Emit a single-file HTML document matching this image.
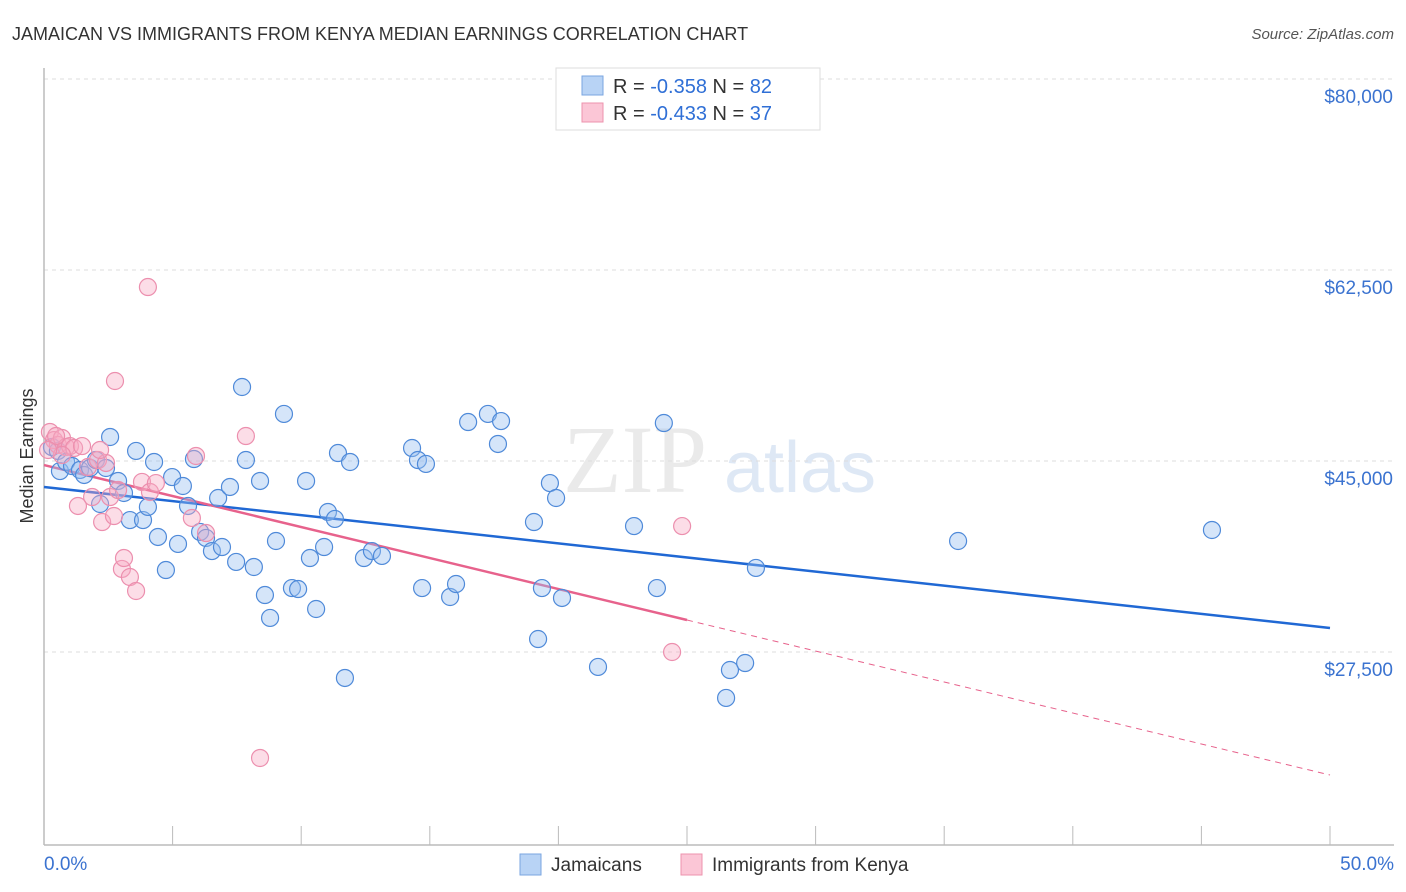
<!DOCTYPE html>
<html><head><meta charset="utf-8"><style>
body{margin:0;background:#fff;font-family:"Liberation Sans",sans-serif}
svg{display:block}
</style></head><body>
<svg id="chart" width="1406" height="892" xmlns="http://www.w3.org/2000/svg">
<text x="12" y="40" font-size="18" fill="#333">JAMAICAN VS IMMIGRANTS FROM KENYA MEDIAN EARNINGS CORRELATION CHART</text>
<text x="1394" y="39" font-size="15" fill="#555" font-style="italic" text-anchor="end">Source: ZipAtlas.com</text>
<text x="33" y="456" font-size="18" fill="#333" text-anchor="middle" transform="rotate(-90 33 456)">Median Earnings</text>
<g><text x="635" y="492" font-size="96" font-family="Liberation Serif,serif" fill="#ddd" text-anchor="middle" opacity="0.6">ZIP</text><text x="800" y="492" font-size="72" fill="#c9daf0" text-anchor="middle" opacity="0.6">atlas</text></g>
<g id="grid"></g><g id="axes"></g><g id="lines"></g><g id="pts"></g>
<g>
<rect x="556" y="68" width="264" height="62" fill="#fff" stroke="#ddd"/>
<rect x="582" y="76" width="21" height="19" fill="#b8d3f5" stroke="#7aa6e0"/>
<rect x="582" y="103" width="21" height="19" fill="#fbc6d6" stroke="#ec93ad"/>
<text x="613" y="93" font-size="20" fill="#333">R = <tspan fill="#2f6fd6">-0.358</tspan>   N = <tspan fill="#2f6fd6">82</tspan></text>
<text x="613" y="120" font-size="20" fill="#333">R = <tspan fill="#2f6fd6">-0.433</tspan>   N = <tspan fill="#2f6fd6">37</tspan></text>
</g>
<g>
<rect x="520" y="854" width="21" height="21" fill="#b8d3f5" stroke="#7aa6e0"/>
<text x="551" y="871" font-size="19" fill="#333">Jamaicans</text>
<rect x="681" y="854" width="21" height="21" fill="#fbc6d6" stroke="#ec93ad"/>
<text x="712" y="871" font-size="19" fill="#333">Immigrants from Kenya</text>
</g>
</svg>
<script>
const yTicks=[80000,62500,45000,27500];
const yTickLabels=["$80,000","$62,500","$45,000","$27,500"];
const xTickLabels=["0.0%","50.0%"];
const jamX=[0.31,0.54,0.62,0.86,1.09,1.40,1.56,1.79,2.02,2.18,2.41,2.57,2.88,3.11,3.34,3.58,3.85,4.04,4.28,4.43,4.74,4.98,5.21,5.40,5.60,5.83,6.07,6.30,6.53,6.77,6.92,7.23,7.47,7.70,7.85,8.16,8.40,8.59,8.79,9.02,9.64,9.33,9.88,10.19,10.34,10.58,10.89,11.04,11.31,11.43,11.70,11.90,12.44,12.75,13.14,14.31,14.54,14.85,14.70,15.79,16.02,16.49,17.26,17.65,17.77,19.05,19.21,19.36,19.67,19.91,20.14,21.54,22.94,23.83,24.10,26.52,26.67,27.26,27.68,35.54,45.41];
const jamY=[46280,45920,44080,44910,44540,44180,43720,44360,45090,41060,44360,47200,43170,42070,39590,45920,39590,40790,44910,38040,35010,43530,37400,42710,40880,45180,38500,37950,36750,41610,37120,42620,35750,51780,45090,35290,43170,32720,30620,37670,33360,49310,33270,43170,36110,31440,37120,40330,39690,45730,25120,44910,36110,36750,36300,46190,45090,44730,33360,32540,33730,48570,49310,46560,48660,39410,28690,33360,42980,41610,32450,26130,39040,33360,48480,23290,25850,26490,35200,37670,38680];
const kenX=[0.23,0.39,0.54,0.70,0.86,1.01,1.17,1.32,1.48,1.71,1.87,2.10,2.26,2.41,2.57,2.72,2.88,3.03,3.11,3.34,3.58,3.81,4.04,4.12,4.35,5.75,5.91,6.30,7.85,8.40,2.76,24.81,24.42,2.18,0.70,0.47,0.16];
const kenY=[47660,46920,46470,47110,46280,46370,46190,40880,46370,44450,41700,45090,39410,44820,41700,39960,42340,35110,36110,34370,33090,43080,60940,42160,42980,39780,45460,38400,47290,17790,52330,39040,27500,46010,45550,47290,46010];
const jamTrend=[42620,29700];
const kenTrend=[44630,16230];
const NS="http://www.w3.org/2000/svg";
const X=p=>44+p*(1286/50);
const Y=v=>461-(v-45000)*191/17500;
function mk(t,a,parent){const e=document.createElementNS(NS,t);for(const k in a)e.setAttribute(k,a[k]);document.getElementById(parent).appendChild(e);return e;}
yTicks.forEach((v,i)=>{
  const g=mk('line',{x1:44,x2:1394,y1:Y(v),y2:Y(v),stroke:'#ddd','stroke-dasharray':'4,4'},'grid');
  
  
  const t=mk('text',{x:1393,y:Y(v)+24,'font-size':19,fill:'#3b73d0','text-anchor':'end'},'axes');
  t.textContent=yTickLabels[i];
  
  
});
let a=mk('line',{x1:44,x2:1394,y1:845,y2:845,stroke:'#bbb','stroke-width':1.5},'axes');


a=mk('line',{x1:44,x2:44,y1:68,y2:845,stroke:'#bbb','stroke-width':1.5},'axes');


for(let i=0;i<=10;i++){const t=mk('line',{x1:X(i*5),x2:X(i*5),y1:826,y2:845,stroke:'#bbb'},'axes');

}
[[0,'start',44],[50,'end',1394]].forEach((d,i)=>{const t=mk('text',{x:d[2],y:870,'font-size':19,fill:'#3b73d0','text-anchor':d[1]},'axes');t.textContent=xTickLabels[i];

});
let l=mk('line',{x1:X(0),y1:Y(jamTrend[0]),x2:X(50),y2:Y(jamTrend[1]),stroke:'#2068d4','stroke-width':2.5},'lines');


const km=kenTrend[0]+(kenTrend[1]-kenTrend[0])*25/50;
l=mk('line',{x1:X(0),y1:Y(kenTrend[0]),x2:X(25),y2:Y(km),stroke:'#e7628c','stroke-width':2.5},'lines');


l=mk('line',{x1:X(25),y1:Y(km),x2:X(50),y2:Y(kenTrend[1]),stroke:'#e7628c','stroke-width':1,'stroke-dasharray':'6,5'},'lines');


jamX.forEach((x,i)=>{const c=mk('circle',{cx:X(x),cy:Y(jamY[i]),r:8.5,fill:'rgba(150,190,240,0.4)',stroke:'#4f8ad9','stroke-width':1.2},'pts');

});
kenX.forEach((x,i)=>{const c=mk('circle',{cx:X(x),cy:Y(kenY[i]),r:8.5,fill:'rgba(248,170,195,0.4)',stroke:'#ec8fae','stroke-width':1.2},'pts');

});
</script>
</body></html>
